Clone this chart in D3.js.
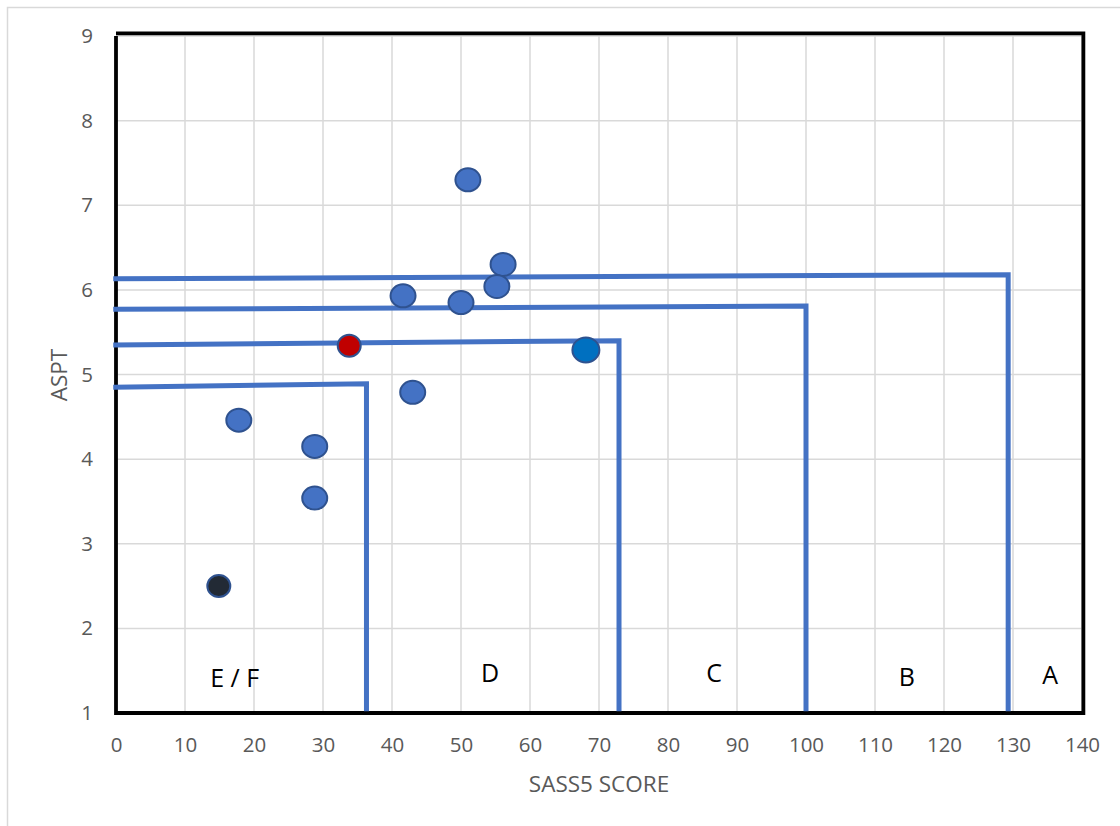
<!DOCTYPE html>
<html>
<head>
<meta charset="utf-8">
<script src="https://cdn.jsdelivr.net/npm/d3@7"></script>
<style>
  html, body { margin: 0; padding: 0; background: #fff; }
  svg { display: block; }
  text { font-family: "Open Sans", "Liberation Sans", sans-serif; }
</style>
</head>
<body>
<svg id="chart" width="1120" height="826"></svg>
<script>
// ---- data ----
const xTicks = [0, 10, 20, 30, 40, 50, 60, 70, 80, 90, 100, 110, 120, 130, 140];
const yTicks = [1, 2, 3, 4, 5, 6, 7, 8, 9];
const sassScore = [51.0, 56.1, 55.2, 41.6, 50.0, 68.1, 33.8, 43.0, 17.8, 28.8, 28.8, 14.9];
const asptValue = [7.30, 6.30, 6.04, 5.93, 5.85, 5.29, 5.34, 4.79, 4.46, 4.15, 3.54, 2.50];
const pointKind = ["site", "site", "site", "site", "site", "highlight", "red", "site", "site", "site", "site", "dark"];
// class boundary lines (SASS5 limit, ASPT at left, ASPT at corner)
const classNames = ["E / F", "D", "C", "B", "A"];
const boundarySass = [36.3, 72.9, 100, 129.3];
const boundaryAsptLeft = [4.85, 5.35, 5.77, 6.13];
const boundaryAsptRight = [4.89, 5.40, 5.81, 6.18];
const classLabelSass = [17.2, 54.2, 86.7, 114.6, 135.4];
const classLabelAspt = [1.43, 1.48, 1.48, 1.44, 1.46];
const xTitle = "SASS5 SCORE";
const yTitle = "ASPT";

// ---- drawing ----
const svg = d3.select("#chart");
const x = d3.scaleLinear().domain([0, 140]).range([116, 1082]);
const y = d3.scaleLinear().domain([1, 9]).range([713, 36]);

// outer chart border (top & left visible)
svg.append("path").attr("d", "M7.5,826 V7.5 H1120").attr("fill", "none")
  .attr("stroke", "#d9d9d9").attr("stroke-width", 1.5);

// gridlines
const grid = svg.append("g");
grid.selectAll(".vg").data(xTicks).enter().append("line")
  .attr("x1", d => x(d)).attr("x2", d => x(d))
  .attr("y1", y(9)).attr("y2", y(1))
  .attr("stroke", "#d9d9d9").attr("stroke-width", 1.5);
grid.selectAll(".hg").data(yTicks).enter().append("line")
  .attr("x1", x(0)).attr("x2", x(140))
  .attr("y1", d => y(d)).attr("y2", d => y(d))
  .attr("stroke", "#d9d9d9").attr("stroke-width", 1.5);

// axes (labels only)
const xAxis = d3.axisBottom(x).tickValues(xTicks).tickSize(0).tickPadding(0);
const gx = svg.append("g").attr("transform", `translate(0,${y(1) + 32})`).call(xAxis);
gx.select(".domain").remove();
gx.selectAll("text").attr("fill", "#595959").style("font-size", "20.5px")
  .attr("dy", "0.35em").attr("y", 0);

const yAxis = d3.axisLeft(y).tickValues(yTicks).tickSize(0).tickPadding(0);
const gy = svg.append("g").attr("transform", `translate(${x(0) - 23},0)`).call(yAxis);
gy.select(".domain").remove();
gy.selectAll("text").attr("fill", "#595959").style("font-size", "20.5px");

// axis titles
svg.append("text").attr("x", 599).attr("y", 783).attr("text-anchor", "middle")
  .attr("dominant-baseline", "central").attr("fill", "#595959").style("font-size", "22.5px")
  .text(xTitle);
svg.append("text").attr("transform", "translate(58,375) rotate(-90)").attr("text-anchor", "middle")
  .attr("dominant-baseline", "central").attr("fill", "#595959").style("font-size", "22.5px")
  .text(yTitle);

// black frame
const frame = d3.line().x(d => x(d[0])).y(d => y(d[1]));
svg.append("path")
  .attr("d", frame([[0, 9.03], [140.2, 9.03], [140.2, 1], [0, 1], [0, 9.0]]))
  .attr("fill", "none").attr("stroke", "#000").attr("stroke-width", 3.8);

// class boundary lines
const bl = svg.append("g");
boundarySass.forEach((b, i) => {
  bl.append("path")
    .attr("d", frame([[-0.4, boundaryAsptLeft[i]], [b, boundaryAsptRight[i]], [b, 1.02]]))
    .attr("fill", "none").attr("stroke", "#4472C4").attr("stroke-width", 5)
    .attr("stroke-linejoin", "miter");
});

// class labels
svg.selectAll(".cl").data(classNames).enter().append("text")
  .attr("x", (d, i) => x(classLabelSass[i]))
  .attr("y", (d, i) => y(classLabelAspt[i]))
  .attr("text-anchor", "middle").attr("dominant-baseline", "central")
  .attr("fill", "#000").style("font-size", "25px")
  .text(d => d);

// points
const fillFor = { site: "#4472C4", highlight: "#0070C0", red: "#C00000", dark: "#222A35" };
const pts = sassScore.map((s, i) => ({ s, a: asptValue[i], k: pointKind[i] }));
svg.selectAll(".pt").data(pts).enter().append("ellipse")
  .attr("cx", d => x(d.s)).attr("cy", d => y(d.a))
  .attr("rx", d => d.k === "highlight" ? 13.5 : (d.k === "red" || d.k === "dark") ? 11.5 : 12.5)
  .attr("ry", d => d.k === "highlight" ? 12.5 : (d.k === "red" || d.k === "dark") ? 11 : 11.5)
  .attr("fill", d => fillFor[d.k]).attr("stroke", "#2F528F").attr("stroke-width", 2);
</script>
</body>
</html>
